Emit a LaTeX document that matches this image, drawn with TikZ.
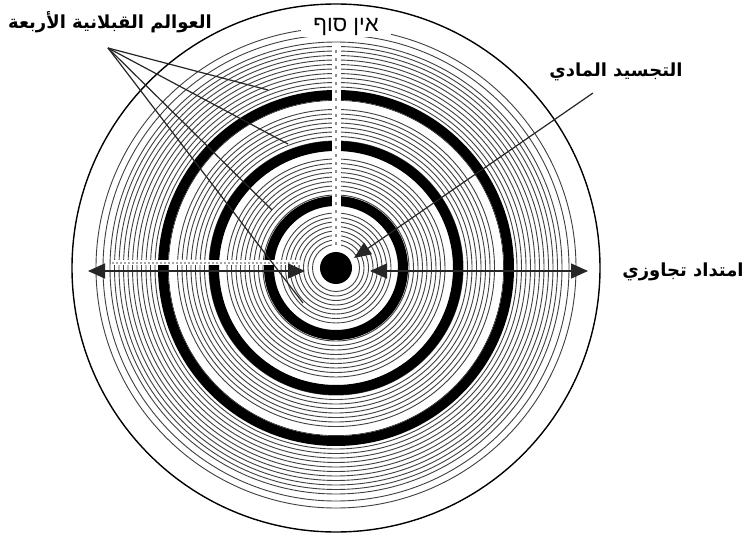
\documentclass[tikz,border=0pt]{standalone}
\usepackage{fontspec}
\newfontfamily\arfont[Script=Arabic]{DejaVu Sans}
\newfontfamily\hefont[Script=Hebrew]{Liberation Sans}
\TeXXeTstate=1
\usetikzlibrary{arrows.meta}
\begin{document}
\begin{tikzpicture}[x=1pt,y=-1pt,
  thinring/.style={draw=black!75, line width=0.9pt},
  thickring/.style={draw=black, line width=10pt},
  gapring/.style={draw=white, line width=5pt},
  pointer/.style={draw=black!85, line width=1.2pt},
  dblarrow/.style={draw=black!85, line width=1.3pt, {Triangle[length=17pt,width=15pt]}-{Triangle[length=17pt,width=15pt]}},
  onearrow/.style={draw=black!85, line width=1.2pt, -{Triangle[length=17pt,width=14pt]}},
  arlabel/.style={font=\arfont\bfseries\fontsize{18}{22}\selectfont, inner sep=1pt},
  helabel/.style={font=\hefont\fontsize{22}{26}\selectfont, fill=white, inner sep=1pt, minimum width=90pt, minimum height=20pt}
]
\useasboundingbox (0,0) rectangle (750,537);
\fill[white] (0,0) rectangle (750,537);
\coordinate (c) at (336,268);
% dense thin rings
\foreach \r in {23.5,28,...,226.5} \draw[thinring] (c) circle[radius=\r];
% outer spaced rings
\draw[thinring] (c) circle[radius=233];
\draw[thinring] (c) circle[radius=240];
\draw[draw=black, line width=1.4pt] (c) circle[radius=264];
% thick rings with white gaps inside
\foreach \R in {67,122,173} {
  \draw[gapring] (c) circle[radius=\R-8.5];
  \draw[thickring] (c) circle[radius=\R];
}
% vertical white band with dashed line
\draw[white, line width=9pt] (336,46) -- (336,252);
\draw[black!45, line width=2.5pt, dash pattern=on 3pt off 5pt] (336,50) -- (336,250);
% horizontal faint band
\draw[white, line width=5pt] (112,263) -- (300,263);
\draw[black!35, line width=2pt, dash pattern=on 2pt off 2pt] (112,263) -- (300,263);
% central disc
\node[circle, fill=black, minimum size=32pt, inner sep=0pt] (disc) at (c) {};
% Hebrew label
\node[helabel] (einsof) at (346,27) {\beginR אין סוף\endR};
% arrows of transcendent extension
\coordinate (l1) at (88,271);
\coordinate (l2) at (305,271);
\coordinate (r1) at (370,271);
\coordinate (r2) at (588,271);
\draw[dblarrow] (l1) -- (l2);
\draw[dblarrow] (r1) -- (r2);
\node[arlabel] (ext) at (683,272) {\beginR امتداد تجاوزي\endR};
% material embodiment
\node[arlabel] (mat) at (616,72) {\beginR التجسيد المادي\endR};
\coordinate (m1) at (593,93);
\coordinate (m2) at (354,258);
\draw[onearrow] (m1) -- (m2);
% four worlds
\node[arlabel] (worlds) at (110,22) {\beginR العوالم القبلانية الأربعة\endR};
\coordinate (src) at (108,48);
\coordinate (e1) at (268,90);
\coordinate (e2) at (288,144);
\coordinate (e3) at (272,210);
\coordinate (e4) at (303,303);
\foreach \e in {e1,e2,e3,e4} \draw[pointer] (src) -- (\e);
\end{tikzpicture}
\end{document}
